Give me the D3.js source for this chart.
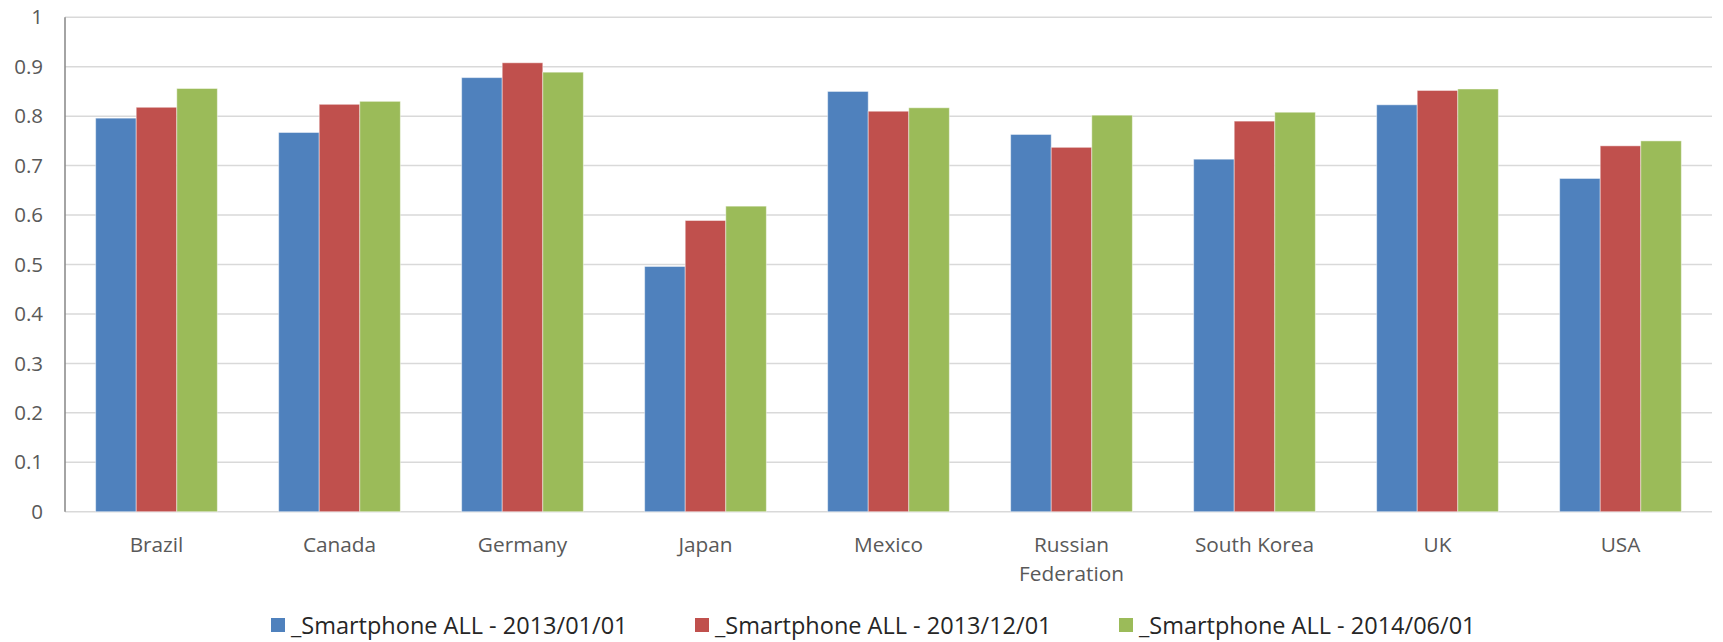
<!DOCTYPE html>
<html>
<head>
<meta charset="utf-8">
<script src="https://cdn.jsdelivr.net/npm/d3@7"></script>
<style>
  body { margin: 0; background: #fff; }
  text { font-family: "Open Sans", sans-serif; fill: #595959; }
</style>
</head>
<body>
<svg id="chart" width="1723" height="642"></svg>
<script>
// data
const countries = ['Brazil', 'Canada', 'Germany', 'Japan', 'Mexico', 'Russian Federation', 'South Korea', 'UK', 'USA'];
const seriesNames = ['_Smartphone ALL - 2013/01/01', '_Smartphone ALL - 2013/12/01', '_Smartphone ALL - 2014/06/01'];
const jan2013 = [0.796, 0.767, 0.878, 0.496, 0.850, 0.763, 0.713, 0.823, 0.674];
const dec2013 = [0.818, 0.824, 0.908, 0.589, 0.810, 0.737, 0.790, 0.852, 0.740];
const jun2014 = [0.856, 0.830, 0.889, 0.618, 0.817, 0.802, 0.808, 0.855, 0.750];
const yTicks = [0, 0.1, 0.2, 0.3, 0.4, 0.5, 0.6, 0.7, 0.8, 0.9, 1];
const colors = ['#4f81bd', '#c0504d', '#9bbb59'];

const series = [jan2013, dec2013, jun2014];

let svg = d3.select('#chart');
let plotLeft = 65, plotRight = 1712, plotTop = 17.3, plotBottom = 511.7;

let x0 = d3.scaleBand()
  .domain(countries)
  .range([plotLeft, plotRight])
  .paddingInner(0.335)
  .paddingOuter(0.1675);

let x1 = d3.scaleBand()
  .domain(d3.range(series.length))
  .range([0, x0.bandwidth()]);

let y = d3.scaleLinear().domain([0, 1]).range([plotBottom, plotTop]);

// gridlines
svg.append('g')
  .selectAll('line')
  .data(yTicks)
  .enter()
  .append('line')
    .attr('x1', plotLeft)
    .attr('x2', plotRight)
    .attr('y1', d => y(d))
    .attr('y2', d => y(d))
    .style('stroke', '#d9d9d9')
    .style('stroke-width', 1.5);

// y axis labels
svg.append('g')
  .selectAll('text')
  .data(yTicks)
  .enter()
  .append('text')
    .attr('x', 43)
    .attr('y', d => y(d))
    .attr('dy', '0.35em')
    .attr('text-anchor', 'end')
    .style('font-size', '20.5px')
    .text(d => d3.format('')(d));

// bars
countries.forEach((c, i) => {
  svg.append('g')
    .selectAll('rect')
    .data(series.map((s, k) => ({k: k, v: s[i]})))
    .enter()
    .append('rect')
      .attr('x', d => x0(c) + x1(d.k))
      .attr('y', d => y(d.v))
      .attr('width', x1.bandwidth())
      .attr('height', d => y(0) - y(d.v))
      .style('fill', d => colors[d.k])
      .style('stroke', 'rgba(255,255,255,0.45)')
      .style('stroke-width', 1);
});

// y axis line
svg.append('line')
  .attr('x1', plotLeft).attr('x2', plotLeft)
  .attr('y1', y(1)).attr('y2', y(0))
  .style('stroke', '#868686')
  .style('stroke-width', 1.5);

// category labels (wrapped on space for long names)
svg.append('g')
  .selectAll('text')
  .data(countries)
  .enter()
  .append('text')
    .attr('x', d => x0(d) + x0.bandwidth() / 2)
    .attr('y', 552)
    .attr('text-anchor', 'middle')
    .style('font-size', '20.8px')
    .each(function (d) {
      let lines = d === 'Russian Federation' ? ['Russian', 'Federation'] : [d];
      d3.select(this).selectAll('tspan')
        .data(lines)
        .enter()
        .append('tspan')
          .attr('x', x0(d) + x0.bandwidth() / 2)
          .attr('dy', (_, j) => j === 0 ? 0 : 29)
          .text(l => l);
    });

// legend
let legendX = [271, 695, 1119];
let legend = svg.append('g')
  .selectAll('g')
  .data(seriesNames)
  .enter()
  .append('g')
    .attr('transform', (_, i) => 'translate(' + legendX[i] + ',618)');

legend.append('rect')
  .attr('width', 14)
  .attr('height', 14)
  .style('fill', (_, i) => colors[i]);

legend.append('text')
  .attr('x', 20)
  .attr('y', 16)
  .style('font-size', '23.5px')
  .style('fill', '#262626')
  .text(d => d);
</script>
</body>
</html>
